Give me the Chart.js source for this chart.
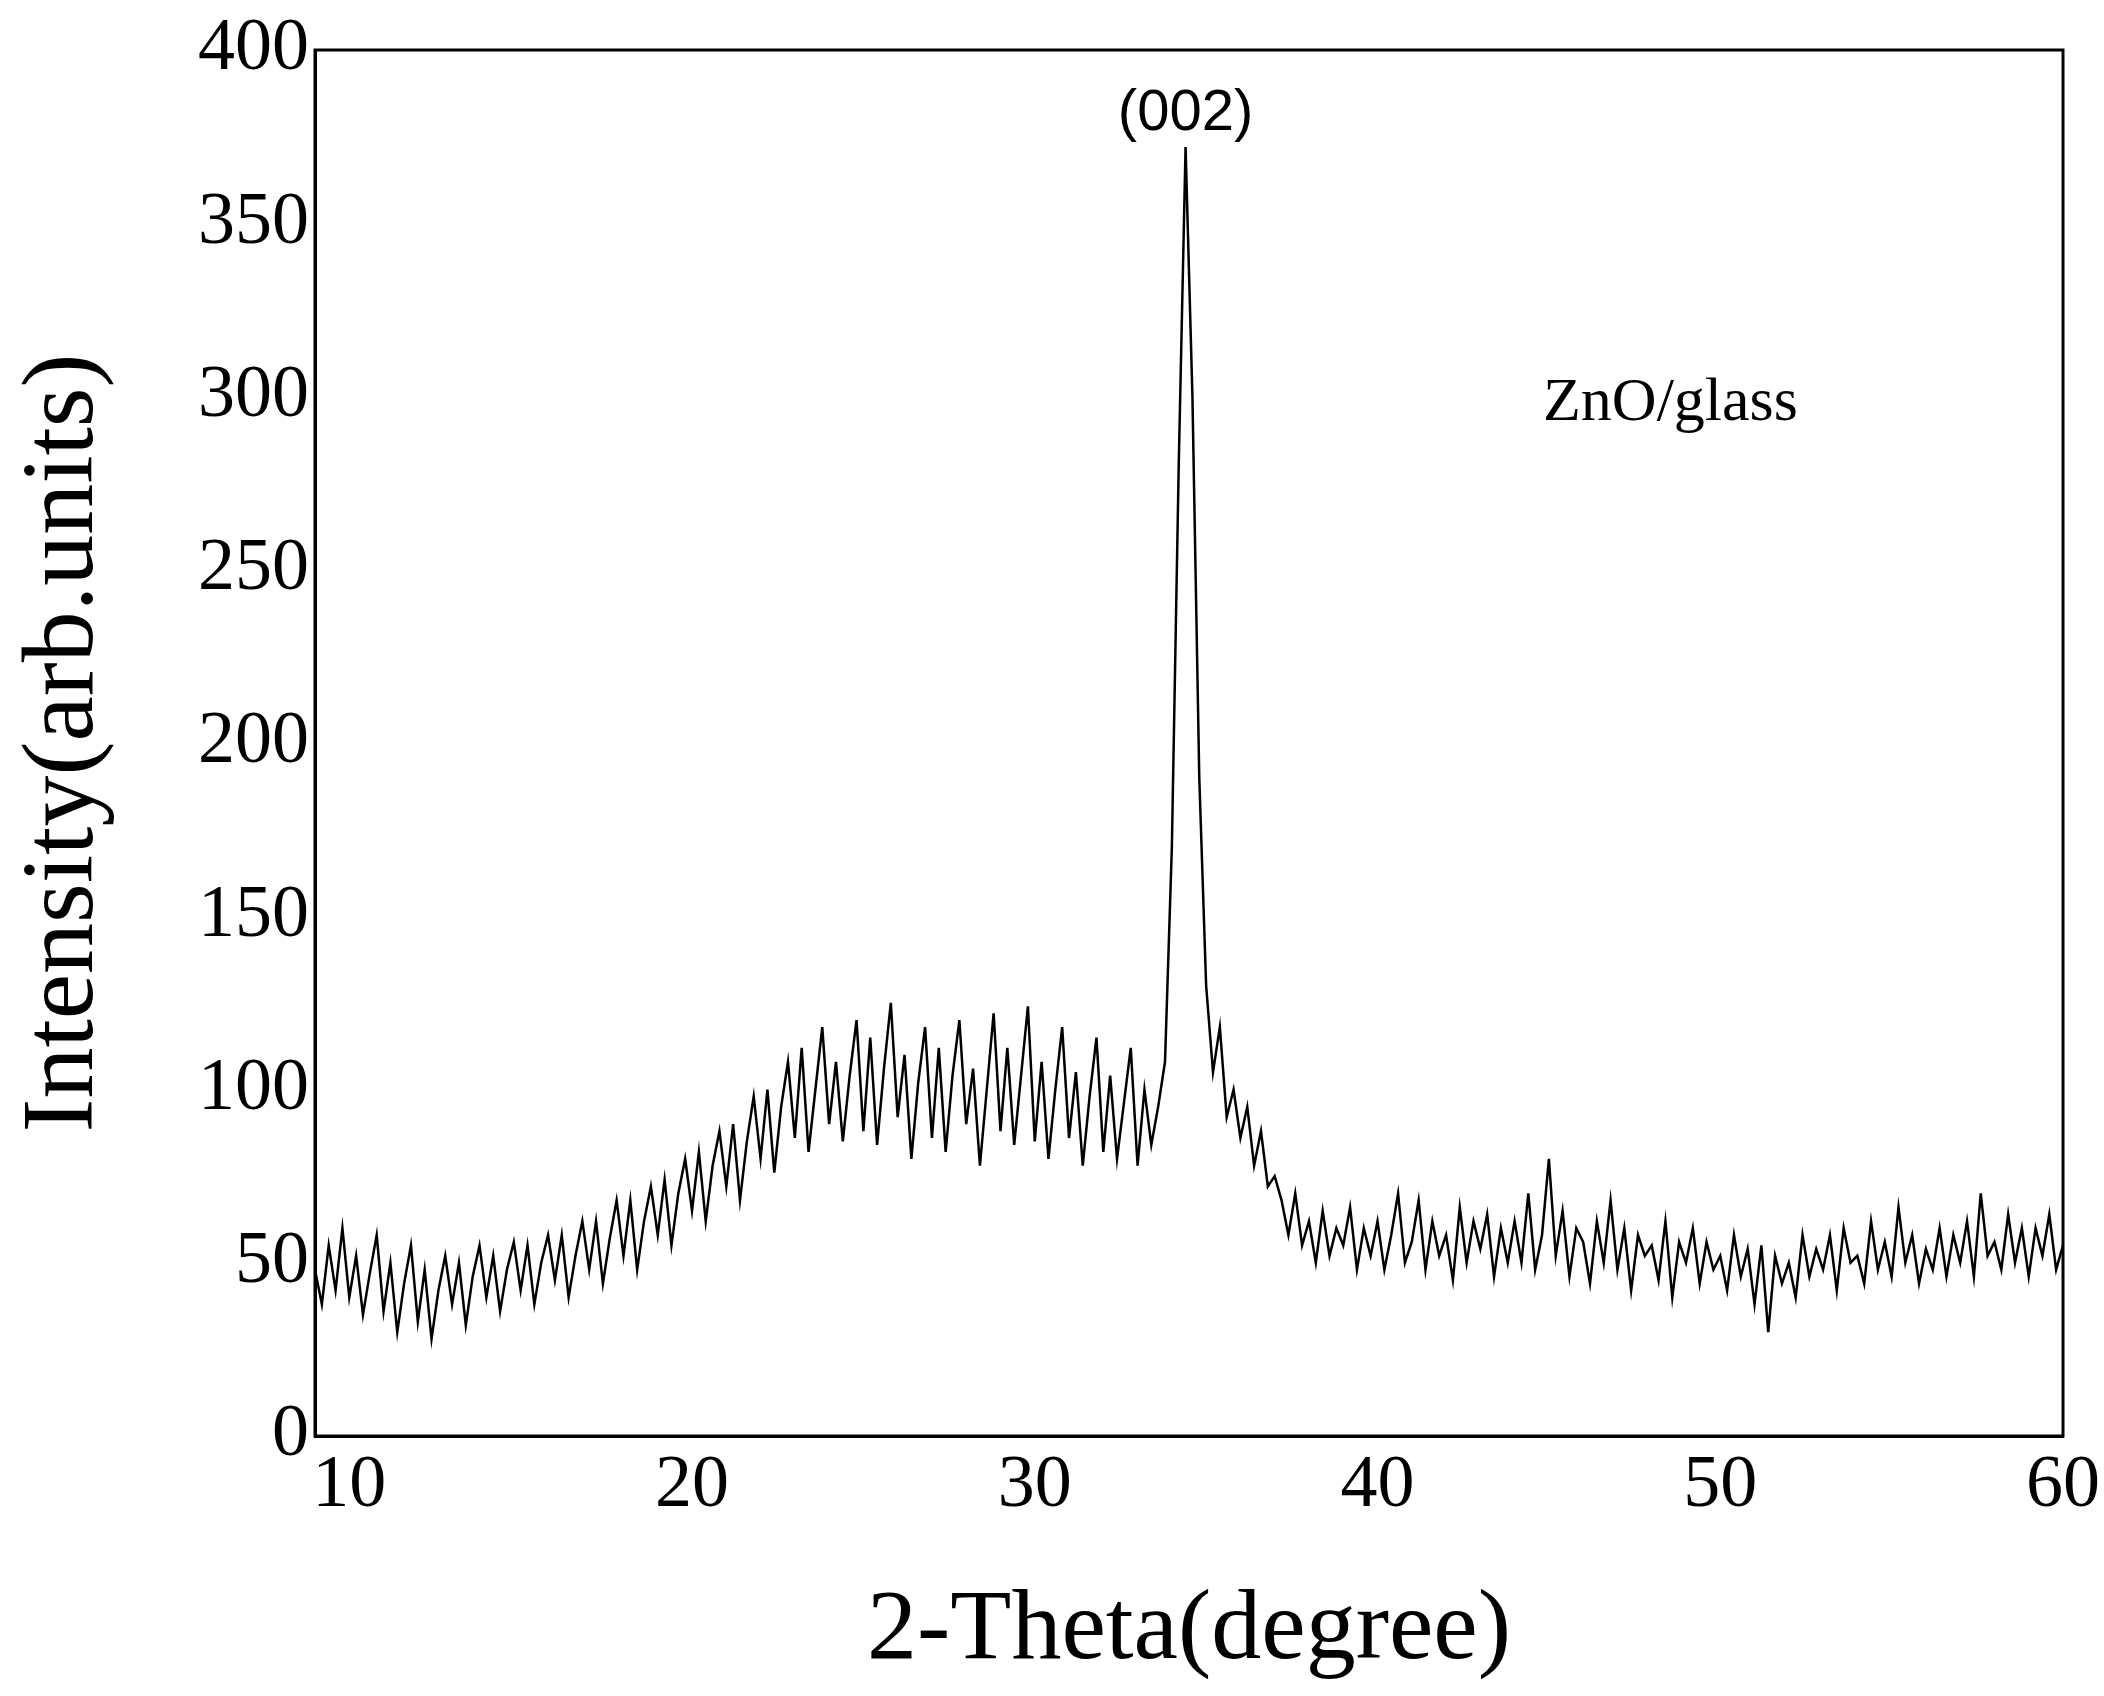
<!DOCTYPE html>
<html>
<head>
<meta charset="utf-8">
<script src="https://cdn.jsdelivr.net/npm/chart.js@4/dist/chart.umd.min.js"></script>
<style>
  html, body { margin: 0; padding: 0; background: #fff; }
  #wrap { width: 2104px; height: 1696px; position: relative; }
</style>
</head>
<body>
<div id="wrap"><canvas id="xrd"></canvas></div>
<script>
// XRD pattern, ZnO on glass — values every 0.2 degree from 9.0
const thetaStart = 9.0;
const thetaStep = 0.2;
const intensity = [
  48,38,55,42,60,  40,52,35,47,58,  36,50,30,44,55,  33,48,28,42,52,
  38,50,32,46,55,  40,52,36,48,56,  42,55,38,50,58,  45,58,40,52,62,
  48,62,44,57,68,  52,68,48,62,72,  58,74,55,70,80,  65,82,62,78,88,
  72,90,68,85,98,  80,100,76,95,108, 86,112,82,100,118, 90,108,85,104,120,
  88,115,84,106,125, 92,110,80,102,118, 86,112,82,104,120, 90,106,78,100,122,
  88,112,84,104,124, 85,108,80,100,118, 86,105,78,98,115, 82,104,80,96,112,
  78,100,84,95,108, 170,280,372,300,190, 130,105,118,92,100, 86,95,78,88,72,
  75,68,58,70,55,  62,50,65,52,60,  55,66,48,60,52,  62,48,58,70,50,
  56,68,48,62,52,  58,45,66,50,62,  54,64,46,60,50,  62,50,70,48,58,
  80,52,65,46,60,  56,44,62,50,68,  48,60,42,58,52,  55,45,62,40,56,
  50,60,44,56,48,  52,42,58,46,54,  38,55,30,52,44,  50,40,58,46,54,
  48,58,42,60,50,  52,44,62,48,56,  46,66,50,58,44,  54,48,60,46,58,
  50,62,46,70,52,  56,48,64,50,60,  46,60,52,64,48,  55
];
const xTicks = [10, 20, 30, 40, 50, 60];
const yTicks = [0, 50, 100, 150, 200, 250, 300, 350, 400];
const peakLabel = '(002)';
const sampleLabel = 'ZnO/glass';

const points = intensity.map((v, i) => ({ x: +(thetaStart + i * thetaStep).toFixed(2), y: v }));

const serif = '"Liberation Serif", "DejaVu Serif", serif';

const annotations = {
  id: 'annotations',
  afterDraw(chart) {
    const { ctx, scales: { x } } = chart;
    ctx.save();
    ctx.fillStyle = '#000';
    ctx.textAlign = 'center';
    ctx.textBaseline = 'alphabetic';
    ctx.font = '58px "Liberation Sans", Arial, sans-serif';
    ctx.fillText(peakLabel, x.getPixelForValue(34.4), 130);
    ctx.font = '62px ' + serif;
    ctx.textAlign = 'left';
    ctx.fillText(sampleLabel, 1543, 420);
    ctx.restore();
  }
};

new Chart(document.getElementById('xrd'), {
  type: 'line',
  data: {
    datasets: [{
      data: points,
      borderColor: '#000',
      borderWidth: 2.5,
      pointRadius: 0,
      tension: 0,
      fill: false
    }]
  },
  options: {
    responsive: true,
    maintainAspectRatio: false,
    animation: false,
    layout: { padding: { top: 50, right: 41, left: 0, bottom: 0 } },
    plugins: { legend: { display: false }, tooltip: { enabled: false } },
    scales: {
      x: {
        type: 'linear',
        min: 9,
        max: 60,
        afterBuildTicks: (s) => { s.ticks = xTicks.map((v) => ({ value: v })); },
        afterFit: (s) => { s.height = 260; },
        grid: { display: false, tickLength: 6 },
        border: { color: '#000', width: 3 },
        ticks: { color: '#000', font: { family: serif, size: 74 }, padding: 0, maxRotation: 0 },
        title: { display: true, text: '2-Theta(degree)', color: '#000', font: { family: serif, size: 100 }, padding: { top: 10 } }
      },
      y: {
        min: 0,
        max: 400,
        afterBuildTicks: (s) => { s.ticks = yTicks.map((v) => ({ value: v })); },
        afterFit: (s) => { s.width = 315; },
        grid: { display: false, tickLength: 6 },
        border: { color: '#000', width: 3 },
        ticks: { color: '#000', font: { family: serif, size: 74 }, padding: 0 },
        title: { display: true, text: 'Intensity(arb.units)', color: '#000', font: { family: serif, size: 102 }, padding: { bottom: 20 } }
      }
    }
  },
  plugins: [annotations, {
    id: 'frame',
    afterDraw(chart) {
      const { ctx, chartArea: a } = chart;
      ctx.save();
      ctx.strokeStyle = '#000';
      ctx.lineWidth = 3;
      ctx.strokeRect(a.left, a.top, a.right - a.left, a.bottom - a.top);
      ctx.restore();
    }
  }]
});
</script>
</body>
</html>
